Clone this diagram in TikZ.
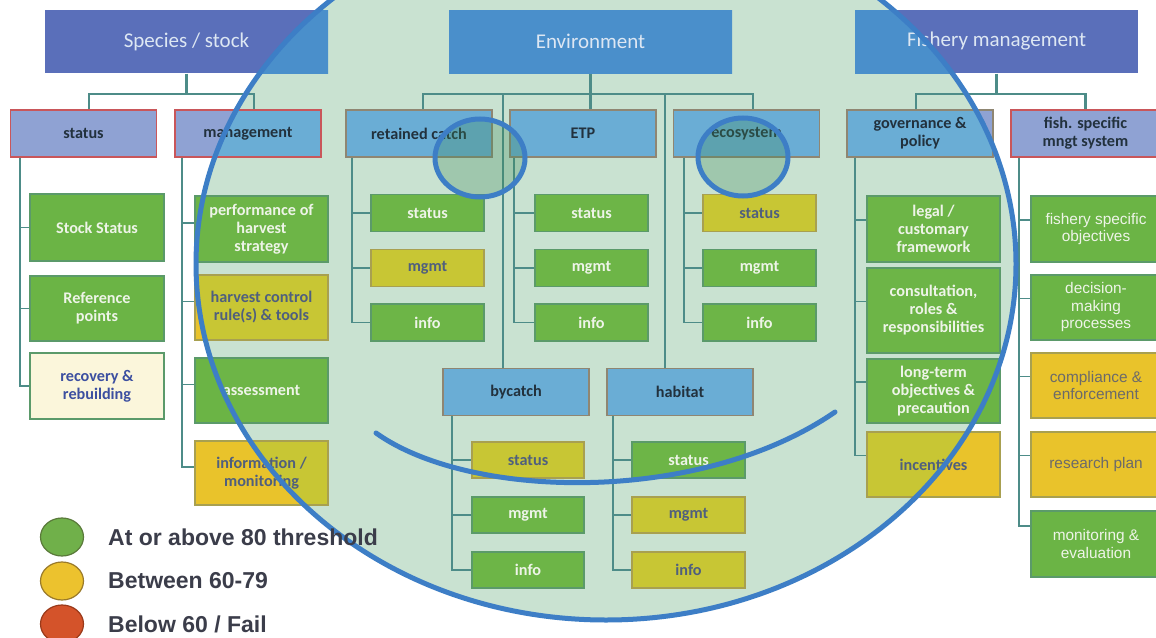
\documentclass[tikz,border=0pt]{standalone}
\usepackage{fontspec}
\setmainfont{Carlito}
\newfontfamily\arialf{Liberation Sans}
\usetikzlibrary{shapes.geometric,calc}
\definecolor{cIndigo}{HTML}{5A6FBA}
\definecolor{cIndigoIn}{HTML}{4A8FCB}
\definecolor{cTopText}{HTML}{DDE7F3}
\definecolor{cHead}{HTML}{8FA2D3}
\definecolor{cHeadIn}{HTML}{6AADD5}
\definecolor{cHeadText}{HTML}{22313D}
\definecolor{cRedB}{HTML}{C9565A}
\definecolor{cBrownB}{HTML}{8F8672}
\definecolor{cGreen}{HTML}{6BB445}
\definecolor{cGreenIn}{HTML}{6DB547}
\definecolor{cGreenB}{HTML}{5B9A6A}
\definecolor{cGreenText}{HTML}{EEF4E8}
\definecolor{cYel}{HTML}{E9C32B}
\definecolor{cYelIn}{HTML}{C8C634}
\definecolor{cYelB}{HTML}{A8A050}
\definecolor{cYelText}{HTML}{4F5F7E}
\definecolor{cYelTextA}{HTML}{6B6A6A}
\definecolor{cCream}{HTML}{FBF6DB}
\definecolor{cCreamText}{HTML}{3C4FA0}
\definecolor{cBg}{HTML}{C9E2D1}
\definecolor{cLine}{HTML}{4D8C88}
\definecolor{cBlue}{HTML}{3D7EC6}
\definecolor{cLegText}{HTML}{3B3D4A}
\definecolor{cLegG}{HTML}{70B04A}
\definecolor{cLegGB}{HTML}{5A7A3A}
\definecolor{cLegY}{HTML}{ECC22E}
\definecolor{cLegYB}{HTML}{9A7A2A}
\definecolor{cLegR}{HTML}{D4532A}
\definecolor{cLegRB}{HTML}{9A3A1A}
\definecolor{cSpot}{HTML}{3F8A5A}
\tikzset{
  inside/.style={path picture={\fill[#1] (EC) ellipse [x radius=410pt, y radius=356pt];}},
  base/.style={draw, line width=1.2pt, inner sep=0pt, align=center},
  topbox/.style={base, draw=none, fill=cIndigo, inside=cIndigoIn, text=cTopText,
    font=\fontsize{21}{25}\selectfont, minimum width=283, minimum height=63},
  headR/.style={base, draw=cRedB, line width=1.6pt, fill=cHead, inside=cHeadIn, text=cHeadText,
    font=\bfseries\fontsize{16.2}{18.3}\selectfont, minimum width=146, minimum height=47},
  headB/.style={headR, draw=cBrownB},
  leaffont/.style={font=\bfseries\fontsize{16.2}{18}\selectfont},
  arialfont/.style={font=\arialf\fontsize{15.4}{17.5}\selectfont},
  gbox/.style={base, draw=cGreenB, fill=cGreen, inside=cGreenIn, text=cGreenText, leaffont},
  ybox/.style={base, draw=cYelB, fill=cYel, inside=cYelIn, text=cYelText, leaffont},
  cbox/.style={base, draw=cGreenB, fill=cCream, text=cCreamText, leaffont},
  small/.style={minimum width=113, minimum height=37},
  smallb/.style={minimum width=112, minimum height=36},
  bigl/.style={minimum width=134},
  bigm/.style={minimum width=133},
  bigf/.style={minimum width=130},
  conn/.style={draw=cLine, line width=2.6pt},
  leafline/.style={draw=cLine, line width=1.6pt},
  ring/.style={draw=cBlue, line width=5pt},
  legdot/.style={ellipse, line width=1.2pt, minimum width=43, minimum height=38, inner sep=0pt},
  legtext/.style={anchor=west, inner sep=0pt, text=cLegText, font=\arialf\bfseries\fontsize{23}{27}\selectfont}
}
\begin{document}
\begin{tikzpicture}[x=1pt,y=-1pt]
\useasboundingbox (0,0) rectangle (1156,637);
\fill[white] (0,0) rectangle (1156,637);
\coordinate (EC) at (606,264);
\fill[cBg] (EC) ellipse [x radius=410pt, y radius=356pt];

% top row
\node[topbox] (sp) at (186.5,41.5) {Species / stock};
\node[topbox] (env) at (590.5,41.5) {Environment};
\node[topbox] (fm) at (996.5,41.5) {Fishery management};

% headers
\node[headR] (hstat) at (83.5,133.5) {status};
\node[headR] (hmgmt) at (248,133.5) {management};
\node[headB] (hret) at (419,133.5) {retained catch};
\node[headB] (hetp) at (583,133.5) {ETP};
\node[headB] (heco) at (746.5,133.5) {ecosystem};
\node[headB] (hgov) at (920,133.5) {governance \&\\policy};
\node[headR, minimum width=149] (hfish) at (1085.5,133.5) {fish. specific\\mngt system};
\node[headB] (hbyc) at (516,392) {bycatch};
\node[headB] (hhab) at (680,392) {habitat};

% species / status column
\node[gbox, bigl, minimum height=67] (stock) at (97,227.5) {Stock Status};
\node[gbox, bigl, minimum height=65] (refp) at (97,308.5) {Reference\\points};
\node[cbox, bigl, minimum height=66] (recov) at (97,386) {recovery \&\\rebuilding};

% management column
\node[gbox, bigm, minimum height=66] (perf) at (261.5,229) {performance of\\harvest\\strategy};
\node[ybox, bigm, minimum height=65] (hcr) at (261.5,307.5) {harvest control\\rule(s) \& tools};
\node[gbox, bigm, minimum height=65] (assess) at (261.5,390.5) {assessment};
\node[ybox, bigm, minimum height=64] (infomon) at (261.5,473) {information /\\monitoring};

% retained catch
\node[gbox, small] (rs) at (427.5,213) {status};
\node[ybox, small] (rm) at (427.5,268) {mgmt};
\node[gbox, small] (ri) at (427.5,322.5) {info};
% ETP
\node[gbox, small] (es) at (591.5,213) {status};
\node[gbox, small] (em) at (591.5,268) {mgmt};
\node[gbox, small] (ei) at (591.5,322.5) {info};
% ecosystem
\node[ybox, small] (os) at (759.5,213) {status};
\node[gbox, small] (om) at (759.5,268) {mgmt};
\node[gbox, small] (oi) at (759.5,322.5) {info};
% bycatch
\node[ybox, smallb] (bs) at (528,460) {status};
\node[gbox, smallb] (bm) at (528,515) {mgmt};
\node[gbox, smallb] (bi) at (528,570) {info};
% habitat
\node[gbox, small, minimum height=36] (hs) at (688.5,460) {status};
\node[ybox, small, minimum height=36] (hm) at (688.5,515) {mgmt};
\node[ybox, small, minimum height=36] (hi) at (688.5,570) {info};

% governance
\node[gbox, bigm, minimum height=66] (legal) at (933.5,229) {legal /\\customary\\framework};
\node[gbox, bigm, minimum height=85] (consult) at (933.5,310.5) {consultation,\\roles \&\\responsibilities};
\node[gbox, bigm, minimum height=64] (longt) at (933.5,391) {long-term\\objectives \&\\precaution};
\node[ybox, bigm, minimum height=65] (incent) at (933.5,464.5) {incentives};

% fishery specific
\node[gbox, bigf, arialfont, minimum height=66] (fobj) at (1096,229) {fishery specific\\objectives};
\node[gbox, bigf, arialfont, minimum height=65] (fdec) at (1096,307.5) {decision-\\making\\processes};
\node[ybox, bigf, arialfont, text=cYelTextA, minimum height=65] (fcomp) at (1096,385.5) {compliance \&\\enforcement};
\node[ybox, bigf, arialfont, text=cYelTextA, minimum height=65] (fres) at (1096,464.5) {research plan};
\node[gbox, bigf, arialfont, minimum height=66] (fmon) at (1096,544) {monitoring \&\\evaluation};

% top connectors
\coordinate (spbus) at (186.5,94);
\coordinate (envbus) at (590.5,94);
\coordinate (fmbus) at (996.5,94);
\draw[conn] (sp.south) -- (spbus);
\draw[conn] ([xshift=5.5pt]hstat.north) |- (spbus) -| ([xshift=6pt]hmgmt.north);
\draw[conn] (env.south) -- (env.south |- hetp.north);
\draw[conn] ([xshift=4pt]hret.north) |- (envbus) -| ([xshift=6.5pt]heco.north);
\draw[conn] ([xshift=-13pt]hbyc.north) |- (envbus);
\draw[conn] ([xshift=-15pt]hhab.north) |- (envbus);
\draw[conn] (fm.south) -- (fmbus);
\draw[conn] ([xshift=-4pt]hgov.north) |- (fmbus) -| (hfish.north);

% leaf connectors
\foreach \c in {stock,refp,recov}{\draw[leafline] ([xshift=10pt]hstat.south west) |- (\c.west);}
\foreach \c in {perf,hcr,assess,infomon}{\draw[leafline] ([xshift=8pt]hmgmt.south west) |- ([yshift=6pt]\c.west);}
\foreach \c in {rs,rm,ri}{\draw[leafline] ([xshift=7pt]hret.south west) |- (\c.west);}
\foreach \c in {es,em,ei}{\draw[leafline] ([xshift=5pt]hetp.south west) |- (\c.west);}
\foreach \c in {os,om,oi}{\draw[leafline] ([xshift=11pt]heco.south west) |- (\c.west);}
\foreach \c in {bs,bm,bi}{\draw[leafline] ([xshift=10pt]hbyc.south west) |- (\c.west);}
\foreach \c in {hs,hm,hi}{\draw[leafline] ([xshift=7pt]hhab.south west) |- (\c.west);}
\foreach \c in {legal,consult,longt,incent}{\draw[leafline] ([xshift=9pt]hgov.south west) |- ([yshift=9pt]\c.west);}
\foreach \c in {fobj,fdec,fcomp,fres}{\draw[leafline] ([xshift=9pt]hfish.south west) |- ([yshift=9pt]\c.west);}
\draw[leafline] ([xshift=9pt]hfish.south west) |- ([yshift=18pt]fmon.west);

% highlight rings
\fill[cSpot, fill opacity=0.3] (480,158) ellipse [x radius=45pt, y radius=39pt];
\draw[ring] (480,158) ellipse [x radius=45pt, y radius=39pt];
\fill[cSpot, fill opacity=0.3] (743,157) ellipse [x radius=45pt, y radius=39pt];
\draw[ring] (743,157) ellipse [x radius=45pt, y radius=39pt];
\draw[ring] (EC) ellipse [x radius=410pt, y radius=356pt];
\draw[ring, line cap=round] (376,433) .. controls (470,500) and (700,505) .. (835,412);

% legend
\node[legdot, draw=cLegGB, fill=cLegG] (lg1) at (62,537) {};
\node[legdot, draw=cLegYB, fill=cLegY] (lg2) at (62,581) {};
\node[legdot, draw=cLegRB, fill=cLegR] (lg3) at (62,624) {};
\node[legtext] (lt1) at (108,537) {At or above 80 threshold};
\node[legtext] (lt2) at (108,581) {Between 60-79};
\node[legtext] (lt3) at (108,624) {Below 60 / Fail};
\end{tikzpicture}
\end{document}
